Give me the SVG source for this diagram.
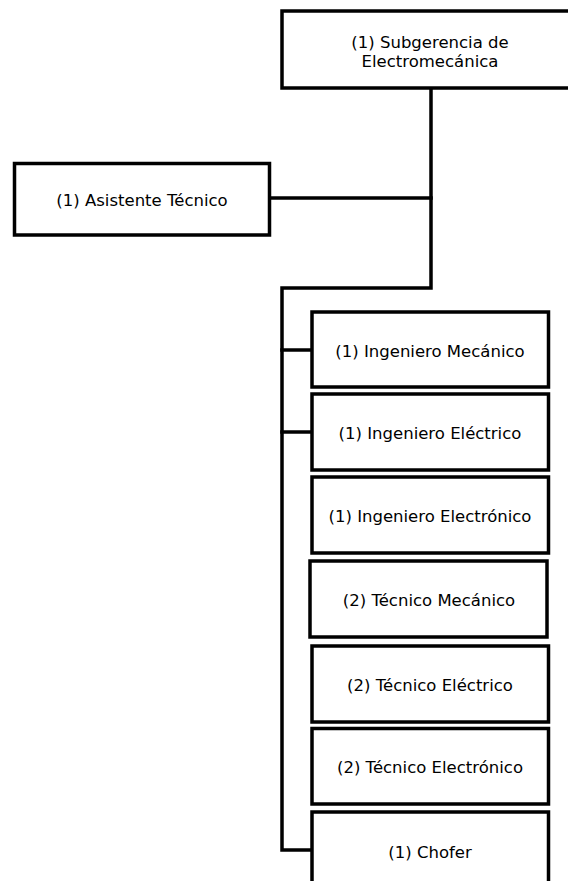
<svg xmlns="http://www.w3.org/2000/svg" width="568" height="881" viewBox="0 0 568 881">
  <style>
    .box { fill: #ffffff; stroke: #000000; stroke-width: 3.5; }
    .wire { fill: none; stroke: #000000; stroke-width: 3.5; stroke-linejoin: miter; stroke-linecap: square; }
    .lbl { font-family: "DejaVu Sans", "Liberation Sans", sans-serif; font-size: 16.5px; fill: #000000; text-anchor: middle; }
  </style>
  <rect x="0" y="0" width="568" height="881" fill="#ffffff"/>

  <!-- connectors -->
  <g id="connectors">
    <path class="wire" d="M431,88 V288 H282 V850 H312"/>
    <path class="wire" d="M270,198 H431"/>
    <path class="wire" d="M282,350 H312"/>
    <path class="wire" d="M282,432 H312"/>
  </g>

  <!-- nodes -->
  <g id="subgerencia">
    <rect class="box" x="282" y="11" width="300" height="77"/>
    <text class="lbl" x="430" y="48">(1) Subgerencia  de</text>
    <text class="lbl" x="430" y="67">Electromecánica</text>
  </g>

  <g id="asistente">
    <rect class="box" x="14.5" y="163.5" width="255" height="71.5"/>
    <text class="lbl" x="142" y="206">(1) Asistente Técnico</text>
  </g>

  <g id="ing-mecanico">
    <rect class="box" x="312" y="312" width="236.5" height="75"/>
    <text class="lbl" x="430" y="357">(1) Ingeniero Mecánico</text>
  </g>

  <g id="ing-electrico">
    <rect class="box" x="312" y="394" width="236.5" height="76"/>
    <text class="lbl" x="430" y="439">(1) Ingeniero Eléctrico</text>
  </g>

  <g id="ing-electronico">
    <rect class="box" x="312" y="477" width="236.5" height="76"/>
    <text class="lbl" x="430" y="522">(1) Ingeniero Electrónico</text>
  </g>

  <g id="tec-mecanico">
    <rect class="box" x="310" y="561" width="237" height="76"/>
    <text class="lbl" x="429" y="606">(2) Técnico Mecánico</text>
  </g>

  <g id="tec-electrico">
    <rect class="box" x="312" y="646" width="236.5" height="76"/>
    <text class="lbl" x="430" y="691">(2) Técnico Eléctrico</text>
  </g>

  <g id="tec-electronico">
    <rect class="box" x="312" y="728.5" width="236.5" height="75.5"/>
    <text class="lbl" x="430" y="773">(2) Técnico Electrónico</text>
  </g>

  <g id="chofer">
    <rect class="box" x="312" y="812" width="236.5" height="90"/>
    <text class="lbl" x="430" y="858">(1) Chofer</text>
  </g>
</svg>
